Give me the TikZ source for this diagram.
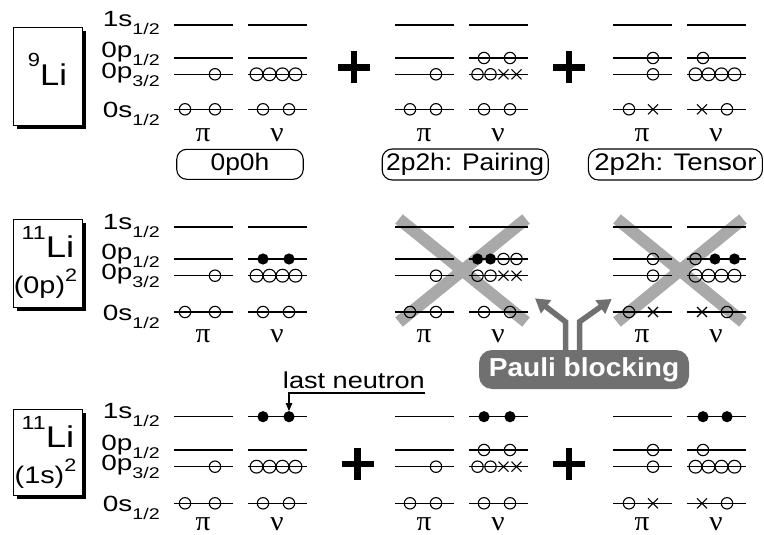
\documentclass[tikz,border=0pt]{standalone}
\usepackage{fontspec}
\usepackage{graphicx}
\setmainfont{Liberation Sans}
\newfontfamily\grk{Liberation Serif}
\usetikzlibrary{arrows.meta,shadows}

\definecolor{xgray}{HTML}{A9A9A9}
\definecolor{pgray}{HTML}{707070}

% horizontally widened text
\newcommand\hsx[2]{\scalebox{#1}[1]{#2}}
% level label with a lowered fraction
\newcommand\lvl[2]{\hsx{1.27}{#1\raisebox{-8pt}{\fontsize{15.5}{15.5}\selectfont #2}}}

% occupation marks
\newcommand\occo[2]{\draw[occ] (#1,#2) circle[radius=5.7pt];}
\newcommand\occf[2]{\fill (#1,#2) circle[radius=5.6pt];}
\newcommand\occx[2]{\draw[occ] (#1-5,#2-5) -- (#1+5,#2+5) (#1-5,#2+5) -- (#1+5,#2-5);}
\newcommand\fourocc[2]{\foreach \dx in {8.5,21.5,34.5,47.5}{\draw[occ] (#1+\dx,#2) circle[radius=6.4pt];}}
\newcommand\pairocc[2]{\occo{#1+15}{#2}\occo{#1+41}{#2}}
\newcommand\bigplus[2]{\draw[plus] (#1-16,#2) -- (#1+16,#2) (#1,#2-16) -- (#1,#2+16);}

% one proton/neutron level scheme
\newcommand\setpanel[1]{\def\PL{#1}\pgfmathsetmacro\NL{#1+74}}
\newcommand\panel[1]{%
  \foreach \yy in {\ys,\ypa,\ypb,\yos}{
    \draw[level] (\PL,\yy) -- ++(58.5,0);
    \draw[level] (\NL,\yy) -- ++(58.5,0);}
  \node[greek] (#1-pi) at (\PL+29,\ylab) {\hsx{1.05}{π}};
  \node[greek] (#1-nu) at (\NL+29,\ylab) {\hsx{1.05}{ν}};}

\begin{document}
\begin{tikzpicture}[x=1pt,y=-1pt,
  level/.style={line width=1.15pt},
  occ/.style={line width=1.1pt},
  plus/.style={line width=6.5pt},
  xcross/.style={line width=12pt,xgray},
  greek/.style={anchor=base,inner sep=0pt,text height=10pt,text depth=0pt,
    font=\grk\fontsize{28}{28}\selectfont},
  lvlab/.style={anchor=base east,inner sep=0pt,font=\fontsize{22}{22}\selectfont},
  libox/.style={draw,line width=1.3pt,fill=white,anchor=north west,
    drop shadow={shadow xshift=3.5pt,shadow yshift=-3.5pt,fill=black,opacity=1}},
  litext/.style={anchor=base,inner sep=0pt},
  tag/.style={draw,line width=1.1pt,rounded corners=10pt,inner sep=0pt,
    font=\fontsize{24}{24}\selectfont},
  pauli/.style={fill=pgray,rounded corners=13pt,inner sep=0pt,text=white,
    font=\bfseries\fontsize{26}{26}\selectfont},
  parr/.style={pgray,line width=5.5pt,-{Triangle[length=14pt,width=16pt]}},
  thinarr/.style={line width=1.2pt,-{Triangle[length=8pt,width=6.5pt]}}]
\useasboundingbox (0,0) rectangle (764,535);

% ---------------- 9Li ----------------
\node[libox,minimum width=69pt,minimum height=98pt] (boxA) at (13,27) {};
\node[litext] (boxAt) at (47.5,85) {\hsx{1.15}{\raisebox{18pt}{\fontsize{19}{19}\selectfont 9}\fontsize{30}{30}\selectfont Li}};

\def\ys{25}\def\ypa{58}\def\ypb{74.3}\def\yos{109.3}\def\ylab{142}
\node[lvlab] (A-1s) at (160,\ys+2) {\lvl{1s}{1/2}};
\node[lvlab] (A-0p1) at (160,\ypa) {\lvl{0p}{1/2}};
\node[lvlab] (A-0p3) at (160,\ypb+4) {\lvl{0p}{3/2}};
\node[lvlab] (A-0s) at (160,\yos+8) {\lvl{0s}{1/2}};

\setpanel{174}\panel{A1}
\occo{\PL+41}{\ypb}\occo{\PL+11}{\yos}\occo{\PL+41}{\yos}
\fourocc{\NL}{\ypb}\pairocc{\NL}{\yos}

\bigplus{354}{67.5}
\setpanel{395}\panel{B1}
\occo{\PL+41}{\ypb}\pairocc{\PL}{\yos}
\pairocc{\NL}{\ypa}
\occo{\NL+8.5}{\ypb}\occo{\NL+21.5}{\ypb}\occx{\NL+34.5}{\ypb}\occx{\NL+47.5}{\ypb}
\pairocc{\NL}{\yos}

\bigplus{569}{67.5}
\setpanel{613}\panel{C1}
\occo{\PL+40}{\ypa}\occo{\PL+40}{\ypb}\occo{\PL+16}{\yos}\occx{\PL+40}{\yos}
\occo{\NL+16}{\ypa}\fourocc{\NL}{\ypb}\occx{\NL+15}{\yos}\occo{\NL+40}{\yos}

\node[tag,minimum width=126.5pt,minimum height=30pt] (t0p0h) at (240,164.3) {\hsx{1.1}{0p0h}};
\node[tag,minimum width=166pt,minimum height=31pt] (tpair) at (465.2,164.5) {\hsx{1.1}{2p2h: Pairing}};
\node[tag,minimum width=174pt,minimum height=31pt] (ttens) at (675.4,164.5) {\hsx{1.15}{2p2h: Tensor}};

% ---------------- 11Li, (0p)^2 ----------------
\node[libox,minimum width=69pt,minimum height=88pt] (boxB) at (13,219) {};
\node[litext] (boxBt) at (48,257) {\hsx{1.22}{\raisebox{18pt}{\fontsize{19}{19}\selectfont 11}\fontsize{30}{30}\selectfont Li}};
\node[litext] (boxBb) at (45.5,293.5) {\hsx{1.2}{\fontsize{24}{24}\selectfont (0p)\raisebox{12pt}{\fontsize{18}{18}\selectfont 2}}};

\def\ys{227}\def\ypa{259}\def\ypb{275.7}\def\yos{312}\def\ylab{342}
\node[lvlab] (B-1s) at (160,\ys+2) {\lvl{1s}{1/2}};
\node[lvlab] (B-0p1) at (160,\ypa) {\lvl{0p}{1/2}};
\node[lvlab] (B-0p3) at (160,\ypb+4) {\lvl{0p}{3/2}};
\node[lvlab] (B-0s) at (160,\yos+8) {\lvl{0s}{1/2}};

\setpanel{174}\panel{A2}
\occo{\PL+41}{\ypb}\occo{\PL+11}{\yos}\occo{\PL+41}{\yos}
\occf{\NL+15}{\ypa}\occf{\NL+41}{\ypa}\fourocc{\NL}{\ypb}\pairocc{\NL}{\yos}

% blocked configurations
\draw[xcross] (399,219) -- (526,322) (526,219) -- (399,322);
\draw[xcross] (617,219) -- (743,322) (743,219) -- (617,322);

\setpanel{395}\panel{B2}
\occo{\PL+41}{\ypb}\pairocc{\PL}{\yos}
\occf{\NL+8.5}{\ypa}\occf{\NL+21.5}{\ypa}\occo{\NL+34.5}{\ypa}\occo{\NL+47.5}{\ypa}
\occo{\NL+8.5}{\ypb}\occo{\NL+21.5}{\ypb}\occx{\NL+34.5}{\ypb}\occx{\NL+47.5}{\ypb}
\pairocc{\NL}{\yos}

\setpanel{613}\panel{C2}
\occo{\PL+40}{\ypa}\occo{\PL+40}{\ypb}\occo{\PL+16}{\yos}\occx{\PL+40}{\yos}
\occo{\NL+8.5}{\ypa}\occf{\NL+28}{\ypa}\occf{\NL+47.5}{\ypa}
\fourocc{\NL}{\ypb}\occx{\NL+15}{\yos}\occo{\NL+40}{\yos}

\node[pauli,minimum width=210pt,minimum height=39pt] (pb) at (584,369.5) {\hsx{1.08}{Pauli blocking}};
\draw[parr] ([xshift=-18.5pt]pb.north) -- ++(0,-28) -- (535,298.3);
\draw[parr] ([xshift=-4.5pt]pb.north) -- ++(0,-28) -- (611.7,299);

% ---------------- 11Li, (1s)^2 ----------------
\node[libox,minimum width=69pt,minimum height=86pt] (boxC) at (13,409) {};
\node[litext] (boxCt) at (48,447) {\hsx{1.22}{\raisebox{18pt}{\fontsize{19}{19}\selectfont 11}\fontsize{30}{30}\selectfont Li}};
\node[litext] (boxCb) at (45.5,483.5) {\hsx{1.2}{\fontsize{24}{24}\selectfont (1s)\raisebox{12pt}{\fontsize{18}{18}\selectfont 2}}};

\def\ys{416.7}\def\ypa{450}\def\ypb{466.7}\def\yos{503.3}\def\ylab{530}
\node[lvlab] (C-1s) at (160,\ys+2) {\lvl{1s}{1/2}};
\node[lvlab] (C-0p1) at (160,\ypa) {\lvl{0p}{1/2}};
\node[lvlab] (C-0p3) at (160,\ypb+4) {\lvl{0p}{3/2}};
\node[lvlab] (C-0s) at (160,\yos+8) {\lvl{0s}{1/2}};

\setpanel{174}\panel{A3}
\occo{\PL+41}{\ypb}\occo{\PL+11}{\yos}\occo{\PL+41}{\yos}
\occf{\NL+15}{\ys}\coordinate (lastn) at (\NL+41,\ys);\fill (lastn) circle[radius=5.6pt];
\fourocc{\NL}{\ypb}\pairocc{\NL}{\yos}

\node[anchor=base east,inner sep=0pt,font=\fontsize{23}{23}\selectfont] (lastlab) at (425,388) {\hsx{1.18}{last neutron}};
\coordinate (ulend) at (425,393);
\draw[thinarr] (ulend) -- (ulend -| lastn) -- ([yshift=5.6pt]lastn);

\bigplus{357.5}{464}
\setpanel{395}\panel{B3}
\occo{\PL+41}{\ypb}\pairocc{\PL}{\yos}
\occf{\NL+15}{\ys}\occf{\NL+41}{\ys}\pairocc{\NL}{\ypa}
\occo{\NL+8.5}{\ypb}\occo{\NL+21.5}{\ypb}\occx{\NL+34.5}{\ypb}\occx{\NL+47.5}{\ypb}
\pairocc{\NL}{\yos}

\bigplus{569}{464}
\setpanel{613}\panel{C3}
\occo{\PL+40}{\ypa}\occo{\PL+40}{\ypb}\occo{\PL+16}{\yos}\occx{\PL+40}{\yos}
\occf{\NL+16}{\ys}\occf{\NL+40}{\ys}
\occo{\NL+16}{\ypa}\fourocc{\NL}{\ypb}\occx{\NL+15}{\yos}\occo{\NL+40}{\yos}
\end{tikzpicture}
\end{document}
